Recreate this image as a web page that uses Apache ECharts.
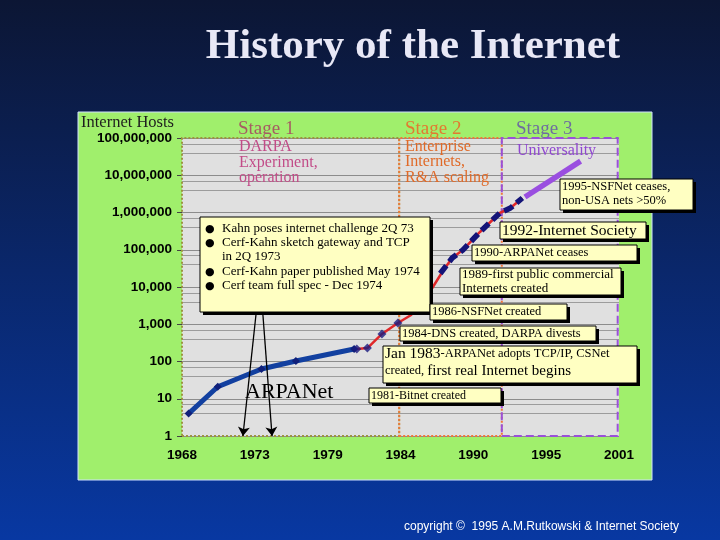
<!DOCTYPE html>
<html><head><meta charset="utf-8">
<script src="https://cdn.jsdelivr.net/npm/echarts@6/dist/echarts.min.js"></script>
<style>html,body{margin:0;padding:0;background:#0a2060}#c{width:720px;height:540px}</style>
</head><body><div id="c"></div>
<script>
// ---- data ----
const xTickLabels = ['1968', '1973', '1979', '1984', '1990', '1995', '2001'];
const yTickValues = [1, 10, 100, 1000, 10000, 100000, 1000000, 10000000, 100000000];
const arpaYears = [1968.5, 1970.7, 1974.0, 1976.6, 1981.0];
const arpaHosts = [4, 21, 63, 103, 217];
const redYears = [1968.5, 1970.7, 1974.0, 1976.6, 1981.0, 1981.2, 1982.0, 1983.1, 1984.3, 1985.3, 1986.9, 1987.7, 1988.4, 1989.2, 1990.5, 1992.0, 1992.8, 1993.7];
const redHosts = [4, 21, 63, 103, 217, 217, 230, 550, 1080, 1770, 9400, 26900, 60000, 98000, 300000, 970000, 1320000, 2450000];
const diamondYears = [1981.2, 1982.0, 1983.1, 1984.3];
const diamondHosts = [217, 230, 550, 1080];
const dashYears = [1987.5, 1988.4, 1989.2, 1990.5, 1992.0, 1992.8, 1993.7];
const dashHosts = [23000, 60000, 98000, 300000, 970000, 1320000, 2450000];
const webYears = [1993.9, 1998.1];
const webHosts = [2600000, 24000000];
const stageBounds = [1968, 1984.4, 1992.15, 2000.9];
const arrowYears = [[1973.6, 1972.6], [1974.1, 1974.8]];

const BASE = 1968;
const X = y => y - BASE;
const pair = (ys, vs) => ys.map((y, i) => [X(y), vs[i]]);
const commas = v => String(Math.round(v)).replace(/\B(?=(\d{3})+(?!\d))/g, ',');

const SERIF = '"Liberation Serif", "DejaVu Serif", serif';
const els = [];
// green panel
els.push({type: 'rect', z: -1, shape: {x: 78, y: 112, width: 574, height: 368}, style: {fill: '#a0ef6c', stroke: '#cfe0ff', lineWidth: 1}});
// title
els.push({type: 'text', z: 5, x: 413, y: 47, style: {text: 'History of the Internet', font: 'bold 43px ' + SERIF, fill: '#e8e8f6', align: 'center', verticalAlign: 'middle', shadowColor: 'rgba(0,0,0,0.6)', shadowOffsetX: 2, shadowOffsetY: 2, shadowBlur: 2}});
// y axis name
els.push({type: 'text', z: 5, x: 81, y: 123, style: {text: 'Internet Hosts', font: '16.5px ' + SERIF, fill: '#1e1e1e', verticalAlign: 'middle'}});
// copyright
els.push({type: 'text', z: 5, x: 404, y: 527, style: {text: 'copyright \u00a9  1995 A.M.Rutkowski & Internet Society', font: '12px "Liberation Sans", Arial, sans-serif', fill: '#ffffff', verticalAlign: 'middle'}});

function label(x, y, text, size, color) {
  els.push({type: 'text', z: 50, x, y, style: {text, font: size + 'px ' + SERIF, fill: color, verticalAlign: 'middle', shadowColor: 'rgba(80,80,80,0.45)', shadowOffsetX: 1, shadowOffsetY: 1, shadowBlur: 1}});
}
label(238, 129, 'Stage 1', 19, '#a65c62');
label(239, 147, 'DARPA', 16, '#c24c88');
label(239, 163, 'Experiment,', 16, '#c24c88');
label(239, 178, 'operation', 16, '#c24c88');
label(405, 129, 'Stage 2', 19, '#e27a30');
label(405, 147, 'Enterprise', 16, '#e06a28');
label(405, 162, 'Internets,', 16, '#e06a28');
label(405, 178, 'R&A scaling', 16, '#e06a28');
label(516, 129, 'Stage 3', 19, '#6e6e9e');
label(517, 151, 'Universality', 16, '#9048d0');
els.push({type: 'text', z: 50, x: 245, y: 392, style: {text: 'ARPANet', font: '22px ' + SERIF, fill: '#000', verticalAlign: 'middle'}});

function box(x, y, w, h, texts) {
  els.push({type: 'rect', z: 100, shape: {x: x + 3, y: y + 3, width: w, height: h}, style: {fill: '#000'}});
  els.push({type: 'rect', z: 101, shape: {x, y, width: w, height: h}, style: {fill: '#ffffc2', stroke: '#000', lineWidth: 1}});
  texts.forEach(t => els.push({type: 'text', z: 102, x: t[0], y: t[1], style: Object.assign({text: t[2], font: (t[3] || 13) + 'px ' + SERIF, fill: '#000', verticalAlign: 'middle'}, t[4] || {})}));
}
const BUL = '"DejaVu Sans", sans-serif';
function bullet(x, y) { return [x, y, '\u25CF', 11, {font: '11px ' + BUL}]; }
box(200, 217, 230, 95, [
  bullet(205, 229), [222, 229, 'Kahn poses internet challenge 2Q 73'],
  bullet(205, 243), [222, 243, 'Cerf-Kahn sketch gateway and TCP'],
  [222, 257, 'in 2Q 1973'],
  bullet(205, 272), [222, 272, 'Cerf-Kahn paper published May 1974'],
  bullet(205, 286), [222, 286, 'Cerf team full spec - Dec 1974']
]);
box(560, 179, 133, 31, [[562, 187, '1995-NSFNet ceases,', 12.5], [562, 201, 'non-USA nets >50%', 12.5]]);
box(500, 222, 146, 17, [[502, 231, '1992-Internet Society', 15.5]]);
box(472, 245, 165, 16, [[474, 253, '1990-ARPANet ceases', 12.5]]);
box(460, 268, 161, 27, [[462, 275, '1989-first public commercial', 13], [462, 289, 'Internets created', 13]]);
box(430, 304, 137, 16, [[432, 312, '1986-NSFNet created', 12.5]]);
box(400, 326, 196, 15, [[402, 334, '1984-DNS created, DARPA divests', 12.5]]);
box(383, 346, 254, 37, [
  [385, 354, '{a|Jan 1983}{b|-ARPANet adopts TCP/IP, CSNet}', 13, {rich: {a: {fontSize: 15.5, fontFamily: SERIF}, b: {fontSize: 12.5, fontFamily: SERIF}}}],
  [385, 371, '{b|created, }{a|first real Internet begins}', 13, {rich: {a: {fontSize: 15, fontFamily: SERIF}, b: {fontSize: 12.5, fontFamily: SERIF}}}]
]);
box(369, 388, 132, 15, [[371, 396, '1981-Bitnet created', 12]]);

const stageStyles = [
  {color: 'rgba(0,0,0,0)', borderColor: '#9c9440', borderWidth: 2, borderType: 'dotted'},
  {color: 'rgba(0,0,0,0)', borderColor: '#f07838', borderWidth: 2, borderType: 'dotted'},
  {color: 'rgba(0,0,0,0)', borderColor: '#9a50d8', borderWidth: 2, borderType: 'dashed'}
];
const stageAreas = [0, 1, 2].map(i => [
  {xAxis: X(stageBounds[i]), yAxis: 1, itemStyle: stageStyles[i]},
  {xAxis: X(stageBounds[i + 1]), yAxis: 100000000}
]);
const arrows = arrowYears.map(a => [{coord: [X(a[0]), 2000]}, {coord: [X(a[1]), 1]}]);

const chart = echarts.init(document.getElementById('c'), null, {renderer: 'canvas'});
chart.setOption({
  animation: false,
  backgroundColor: {type: 'linear', x: 0, y: 0, x2: 0, y2: 1, colorStops: [{offset: 0, color: '#0c1634'}, {offset: 1, color: '#0838a2'}]},
  grid: {left: 182, right: 101, top: 138, bottom: 104, show: true, backgroundColor: '#e0e0e0', borderWidth: 0},
  xAxis: {
    type: 'value', min: 0, max: 33, interval: 5.5,
    axisLabel: {formatter: v => xTickLabels[Math.round(v / 5.5)], fontFamily: '"Liberation Sans", Arial, sans-serif', fontWeight: 'bold', fontSize: 13.5, color: '#000', margin: 12},
    axisLine: {show: false}, axisTick: {show: false}, splitLine: {show: false}
  },
  yAxis: {
    type: 'log', logBase: 10, min: yTickValues[0], max: yTickValues[yTickValues.length - 1],
    axisLabel: {formatter: commas, fontFamily: '"Liberation Sans", Arial, sans-serif', fontWeight: 'bold', fontSize: 13.5, color: '#000', margin: 10},
    axisLine: {show: false}, axisTick: {show: true, length: 5, lineStyle: {color: '#444'}},
    splitLine: {show: true, lineStyle: {color: '#8c8c8c', width: 1}},
    minorTick: {show: false, splitNumber: 3},
    minorSplitLine: {show: true, lineStyle: {color: '#9c9c9c', width: 1}}
  },
  graphic: {elements: els},
  series: [
    {type: 'line', name: 'all', data: pair(redYears, redHosts), showSymbol: false, lineStyle: {color: '#e0282a', width: 2.5}, z: 3,
     markArea: {silent: true, data: stageAreas},
     markLine: {silent: true, symbol: ['none', 'arrow'], symbolSize: 9, label: {show: false}, lineStyle: {color: '#000', width: 1.3, type: 'solid'}, data: arrows}},
    {type: 'line', name: 'ARPANet', data: pair(arpaYears, arpaHosts), symbol: 'diamond', symbolSize: 8, itemStyle: {color: '#10207a'}, lineStyle: {color: '#1240a0', width: 5}, z: 4},
    {type: 'scatter', name: 'points', data: pair(diamondYears, diamondHosts), symbol: 'diamond', symbolSize: 9, itemStyle: {color: '#1a1a80'}, z: 5},
    {type: 'line', name: 'NSFNet', data: pair(dashYears, dashHosts), showSymbol: false, lineStyle: {color: '#141478', width: 5.5, type: [10, 5]}, z: 4},
    {type: 'line', name: 'commercial', data: pair(webYears, webHosts), showSymbol: false, lineStyle: {color: '#9a4ee0', width: 5.5}, z: 4}
  ]
});
</script></body></html>
